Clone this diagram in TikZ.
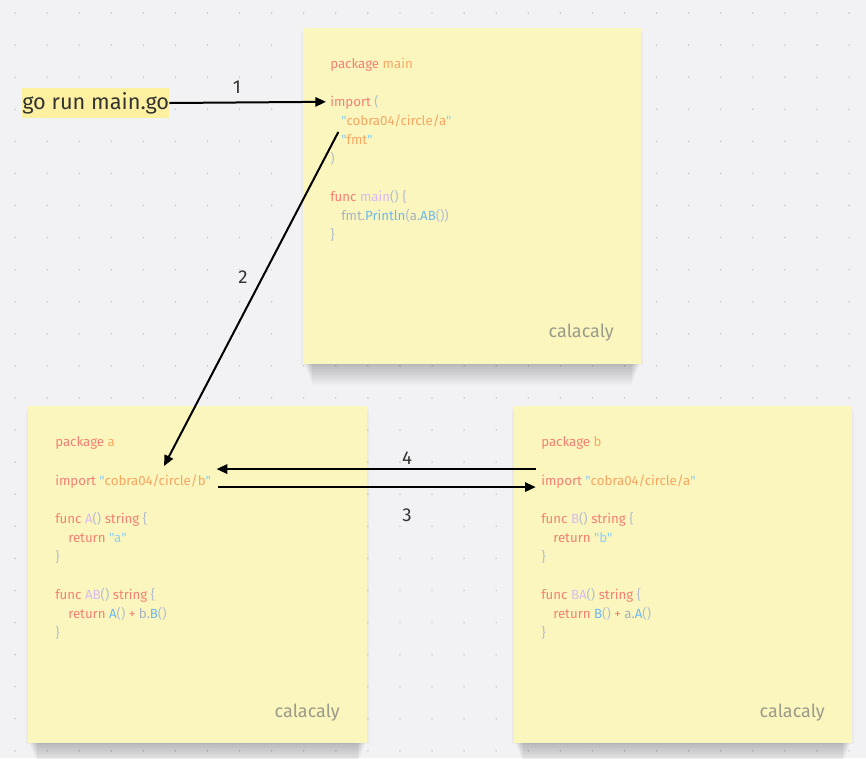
\documentclass[tikz,border=0pt]{standalone}
\usepackage{fontspec}
\newfontfamily\gofont{Fira Sans}
\usetikzlibrary{arrows.meta}
\definecolor{bgc}{RGB}{242,242,245}
\definecolor{dotc}{RGB}{200,200,206}
\definecolor{notec}{RGB}{250,246,190}
\definecolor{hlc}{RGB}{253,240,160}
\definecolor{kwc}{RGB}{245,128,116}
\definecolor{pkc}{RGB}{247,168,98}
\definecolor{strc}{RGB}{247,166,98}
\definecolor{qtc}{RGB}{143,208,240}
\definecolor{parc}{RGB}{180,190,206}
\definecolor{fnc}{RGB}{218,186,240}
\definecolor{idc}{RGB}{168,178,192}
\definecolor{callc}{RGB}{108,184,240}
\definecolor{sigc}{RGB}{155,155,138}
\definecolor{txtc}{RGB}{51,51,51}
\newcommand\ckw[1]{\textcolor{kwc}{#1}}
\newcommand\cpk[1]{\textcolor{pkc}{#1}}
\newcommand\cstr[1]{\textcolor{strc}{#1}}
\newcommand\cqt[1]{\textcolor{qtc}{#1}}
\newcommand\cpar[1]{\textcolor{parc}{#1}}
\newcommand\cfn[1]{\textcolor{fnc}{#1}}
\newcommand\cid[1]{\textcolor{idc}{#1}}
\newcommand\ccall[1]{\textcolor{callc}{#1}}
\newcommand\notesh[4]{%
  \foreach \k in {1,...,14}{\fill[black,opacity=0.016] (#1+1+0.6*\k,#4-14) rectangle (#3-1-0.6*\k,#4+1.5*\k);}%
  \fill[black,opacity=0.03] (#1-2,#2+4) rectangle (#3+2,#4+1);}
\begin{document}
\begin{tikzpicture}[x=0.75pt,y=-0.75pt,
  note/.style={fill=notec,draw=none,anchor=north west,inner sep=0pt},
  code/.style={anchor=base west,inner sep=0pt,font=\gofont\fontsize{9.95pt}{11pt}\selectfont},
  sig/.style={anchor=base east,inner sep=0pt,text=sigc,font=\gofont\fontsize{13.5pt}{14pt}\selectfont},
  lbl/.style={text=txtc,font=\gofont\fontsize{14pt}{17pt}\selectfont},
  arr/.style={draw=black,line width=1.5pt,-{Triangle[length=8pt,width=7pt]}}]
\useasboundingbox (0,0) rectangle (866,758);
\fill[bgc] (0,0) rectangle (866,758);
\foreach \i in {0,...,26}{\foreach \j in {0,...,23}{\fill[dotc] (15+32.08*\i,13+32.08*\j) circle (0.9);}}
% shadows
\notesh{303}{28}{641}{364}
\notesh{28}{406}{367}{743}
\notesh{514}{406}{852}{743}
% notes
\node[note,minimum width=253.5pt,minimum height=252pt] (mainnote) at (303,28) {};
\node[note,minimum width=254.25pt,minimum height=252.75pt] (anote) at (28,406) {};
\node[note,minimum width=253.5pt,minimum height=252.75pt] (bnote) at (514,406) {};
% main
\node[code] (m1) at (330,68) {\ckw{package} \cpk{main}};
\node[code] (m2) at (330,106) {\ckw{import} \cpar{(}};
\node[code] (m3) at (341,125) {\cqt{"}\cstr{cobra04/circle/a}\cqt{"}};
\node[code] (m4) at (341,144) {\cqt{"}\cstr{fmt}\cqt{"}};
\node[code] (m5) at (330,163) {\cpar{)}};
\node[code] (m6) at (330,201) {\ckw{func} \cfn{main}\cpar{() \{}};
\node[code] (m7) at (341,220) {\cid{fmt.}\ccall{Println}\cpar{(}\cid{a.}\ccall{AB}\cpar{())}};
\node[code] (m8) at (330,239) {\cpar{\}}};
\node[sig] (ms) at (614,337) {calacaly};
% a
\node[code] (a1) at (55,446) {\ckw{package} \cpk{a}};
\node[code] (a2) at (55,485) {\ckw{import} \cqt{"}\cstr{cobra04/circle/b}\cqt{"}};
\node[code] (a3) at (55,523) {\ckw{func} \cfn{A}\cpar{()} \ckw{string} \cpar{\{}};
\node[code] (a4) at (68,542) {\ckw{return} \cqt{"a"}};
\node[code] (a5) at (55,561) {\cpar{\}}};
\node[code] (a6) at (55,599) {\ckw{func} \cfn{AB}\cpar{()} \ckw{string} \cpar{\{}};
\node[code] (a7) at (68,618) {\ckw{return} \ccall{A}\cpar{()} \ckw{+} \cid{b.}\ccall{B}\cpar{()}};
\node[code] (a8) at (55,637) {\cpar{\}}};
\node[sig] (as) at (340,717) {calacaly};
% b
\node[code] (b1) at (541,446) {\ckw{package} \cpk{b}};
\node[code] (b2) at (541,485) {\ckw{import} \cqt{"}\cstr{cobra04/circle/a}\cqt{"}};
\node[code] (b3) at (541,523) {\ckw{func} \cfn{B}\cpar{()} \ckw{string} \cpar{\{}};
\node[code] (b4) at (553,542) {\ckw{return} \cqt{"b"}};
\node[code] (b5) at (541,561) {\cpar{\}}};
\node[code] (b6) at (541,599) {\ckw{func} \cfn{BA}\cpar{()} \ckw{string} \cpar{\{}};
\node[code] (b7) at (553,618) {\ckw{return} \ccall{B}\cpar{()} \ckw{+} \cid{a.}\ccall{A}\cpar{()}};
\node[code] (b8) at (541,637) {\cpar{\}}};
\node[sig] (bs) at (825,717) {calacaly};
% command
\node[fill=hlc,text=txtc,inner sep=0pt,minimum height=22.5pt,anchor=west,
  font=\gofont\fontsize{16.3pt}{18pt}\selectfont] (cmd) at (22,103) {go run main.go};
% connector end points
\coordinate (m2w) at ([xshift=-3pt]m2.west);
\coordinate (m3s) at ([xshift=-2pt,yshift=-4pt]m3.south west);
\coordinate (a2t) at (164,466);
\coordinate (a2r4) at ([xshift=4pt,yshift=9pt]a2.east);
\coordinate (a2r3) at ([xshift=5pt,yshift=-4.5pt]a2.east);
\coordinate (b2l4) at ([xshift=-4pt,yshift=9pt]b2.west);
\coordinate (b2l3) at ([xshift=-4pt,yshift=-4.5pt]b2.west);
% arrows
\draw[arr] (cmd.east) -- (m2w);
\draw[arr] (m3s) -- (a2t);
\draw[arr] (b2l4) -- (a2r4);
\draw[arr] (a2r3) -- (b2l3);
% labels
\node[lbl] (l1) at (237,87) {1};
\node[lbl] (l2) at (243,277) {2};
\node[lbl] (l4) at (407,458) {4};
\node[lbl] (l3) at (407,515) {3};
\end{tikzpicture}
\end{document}
